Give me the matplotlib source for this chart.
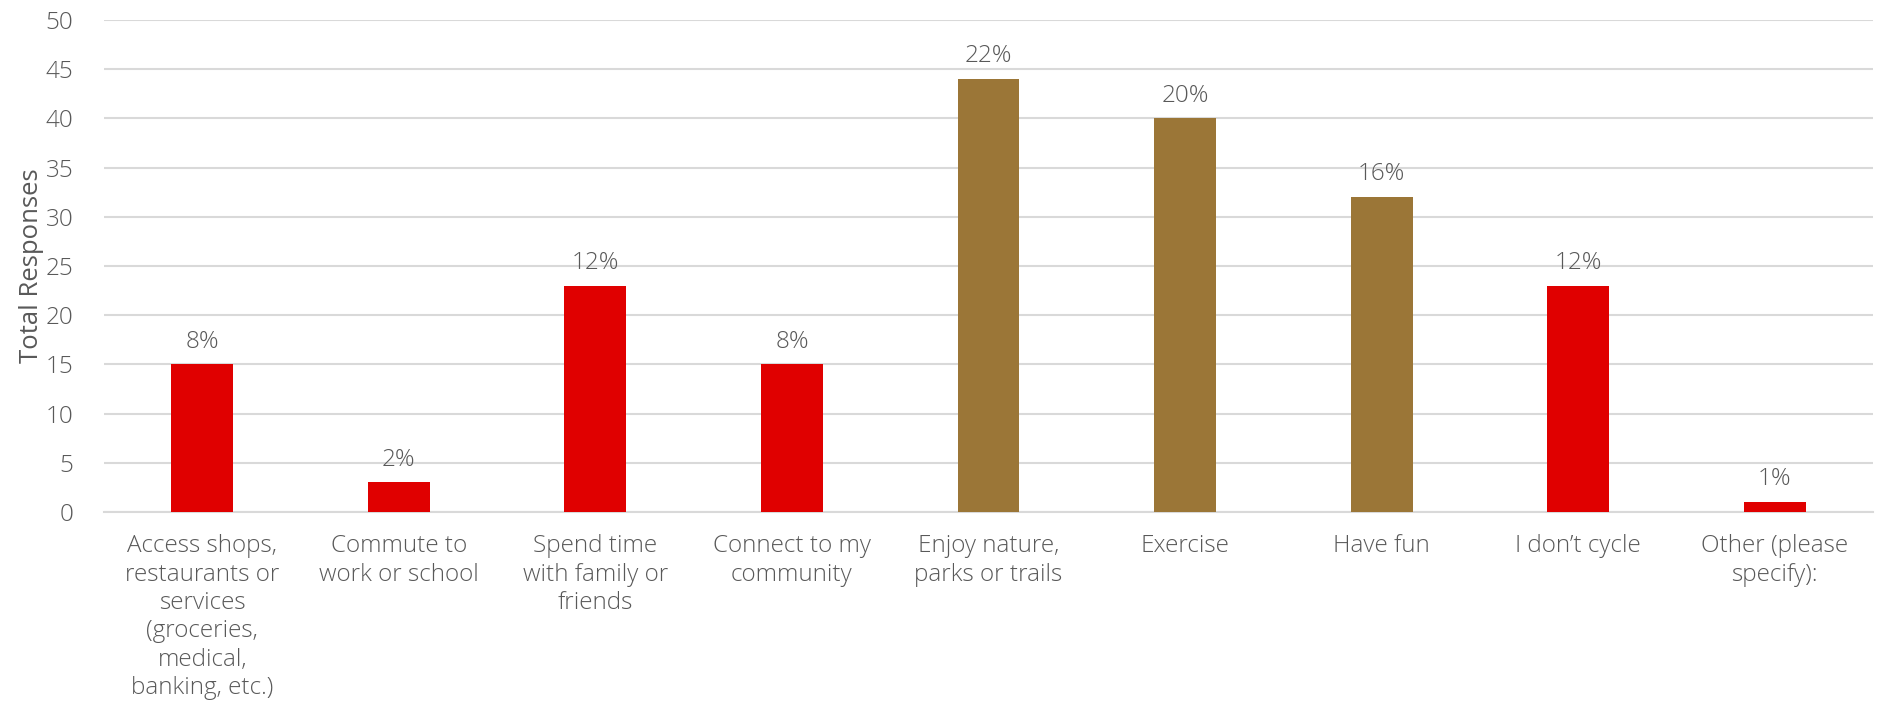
import matplotlib.pyplot as plt
import numpy as np

categories = [
    "Access shops,\nrestaurants or\nservices\n(groceries,\nmedical,\nbanking, etc.)",
    "Commute to\nwork or school",
    "Spend time\nwith family or\nfriends",
    "Connect to my\ncommunity",
    "Enjoy nature,\nparks or trails",
    "Exercise",
    "Have fun",
    "I don\u2019t cycle",
    "Other (please\nspecify):",
]
responses = [15, 3, 23, 15, 44, 40, 32, 23, 1]
pct_labels = ["8%", "2%", "12%", "8%", "22%", "20%", "16%", "12%", "1%"]
highlight = [False, False, False, False, True, True, True, False, False]

red = "#E00000"
brown = "#9B7637"
grey_text = "#595959"

plt.rcParams['font.family'] = ['Open Sans', 'DejaVu Sans']
plt.rcParams['font.weight'] = 'light'
fs = 17.5

fig = plt.figure(figsize=(18.85, 7.04), dpi=100)
ax = fig.add_axes([104 / 1885, 1 - 512 / 704, (1873 - 104) / 1885, (512 - 20) / 704])

x = np.arange(len(categories))
colors = [brown if h else red for h in highlight]
ax.bar(x, responses, width=0.315, color=colors, zorder=3)

# percent labels above bars
for xi, v, lab in zip(x, responses, pct_labels):
    ax.text(xi, v + 1.1, lab, ha='center', va='bottom', fontsize=fs, color=grey_text)

ax.set_xlim(-0.5, len(categories) - 0.5)
ax.set_ylim(0, 50)
ax.set_yticks(range(0, 51, 5))
ax.yaxis.grid(True, color="#D9D9D9", linewidth=1.5, zorder=0)
ax.set_axisbelow(True)

ax.set_xticks(x)
ax.set_xticklabels(categories, fontsize=fs, color=grey_text, linespacing=1.24)
ax.tick_params(axis='y', labelsize=fs, labelcolor=grey_text, length=0, pad=22)
ax.tick_params(axis='x', length=0, pad=16)

for s in ['top', 'right', 'left']:
    ax.spines[s].set_visible(False)
ax.spines['bottom'].set_color("#D9D9D9")
ax.spines['bottom'].set_linewidth(1.5)

ax.set_ylabel("Total Responses", fontsize=fs + 1, color=grey_text, labelpad=1)

fig.savefig("out.png", dpi=100)
